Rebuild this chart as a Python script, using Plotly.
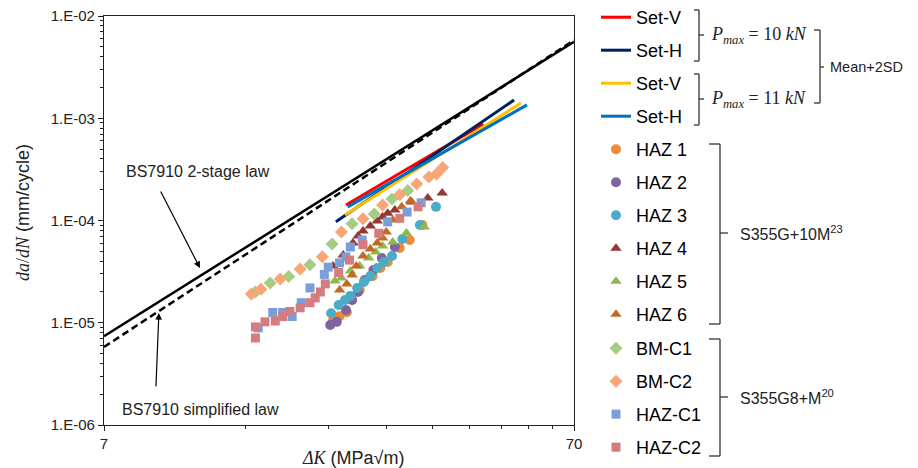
import math
import plotly.graph_objects as go

W, H = 918, 468
L, R, T, B = 104, 574, 16, 425   # plot area in pixels


def px(xp):
    return (xp - L) / (R - L)


def py(yp):
    return (B - yp) / (B - T)


# ---------------- data ----------------
bs2_dk = [7, 70]
bs2_dadn = [7.4e-6, 5.6e-3]
bss_dk = [7, 70]
bss_dadn = [5.8e-6, 5.8e-3]

setv10_dk = [22.9, 44.9]
setv10_dadn = [1.42e-4, 8.8e-4]
seth10_dk = [21.8, 52.2]
seth10_dadn = [9.7e-5, 1.51e-3]
setv11_dk = [22.8, 54.0]
setv11_dadn = [1.13e-4, 1.41e-3]
seth11_dk = [23.1, 55.6]
seth11_dadn = [1.36e-4, 1.35e-3]

haz1_dk = [21.5, 22.2, 23.0, 23.6, 24.5, 26.1, 27.1, 28.1, 29.8, 31.3, 33.3]
haz1_dadn = [1.06e-5, 1.16e-5, 1.27e-5, 1.67e-5, 2.09e-5, 2.86e-5, 3.43e-5, 3.93e-5, 5.38e-5, 6.45e-5, 9.04e-5]

haz2_dk = [21.2, 21.9, 22.9, 23.6, 24.3, 25.1, 26.2, 27.3, 29.1]
haz2_dadn = [9.5e-6, 1.02e-5, 1.33e-5, 1.67e-5, 2.0e-5, 2.62e-5, 3.28e-5, 4.3e-5, 5.5e-5]

haz3_dk = [21.3, 22.1, 22.8, 23.4, 24.2, 25.0, 25.8, 26.7, 27.6, 28.7, 30.2, 32.9, 35.6]
haz3_dadn = [1.24e-5, 1.49e-5, 1.67e-5, 1.83e-5, 2.19e-5, 2.5e-5, 2.86e-5, 3.43e-5, 3.93e-5, 4.5e-5, 6.6e-5, 9.04e-5, 1.36e-4]

haz4_dk = [21.5, 22.6, 23.7, 24.3, 24.9, 25.8, 26.7, 27.4, 28.1, 29.1, 31.6, 34.2, 36.7]
haz4_dadn = [3.59e-5, 4.6e-5, 6.03e-5, 7.05e-5, 7.9e-5, 8.84e-5, 9.9e-5, 1.08e-4, 1.18e-4, 1.27e-4, 1.52e-4, 1.66e-4, 1.86e-4]

haz5_dk = [21.7, 22.4, 23.4, 24.5, 25.6, 26.5, 27.4, 28.8, 30.8, 33.6]
haz5_dadn = [2.56e-5, 2.74e-5, 3.21e-5, 3.59e-5, 4.3e-5, 4.92e-5, 5.64e-5, 6.17e-5, 7.55e-5, 8.63e-5]

haz6_dk = [22.2, 23.0, 23.6, 24.1, 24.9, 25.8, 26.7, 27.4, 27.9, 28.8, 30.1, 31.4]
haz6_dadn = [2.09e-5, 2.39e-5, 2.93e-5, 3.59e-5, 4.5e-5, 5.26e-5, 6.03e-5, 6.75e-5, 7.7e-5, 1.01e-4, 1.36e-4, 1.55e-4]

bmc1_dk = [14.7, 15.8, 17.3, 19.2, 21.4, 23.6, 26.3, 28.7, 31.0]
bmc1_dadn = [2.0e-5, 2.45e-5, 2.83e-5, 3.7e-5, 5.9e-5, 9.3e-5, 1.16e-4, 1.62e-4, 1.96e-4]

bmc2_dk = [14.4, 15.1, 16.6, 18.3, 20.4, 22.4, 24.9, 27.4, 29.8, 32.4, 34.4, 35.7, 36.8]
bmc2_dadn = [1.91e-5, 2.13e-5, 2.68e-5, 3.36e-5, 4.42e-5, 7.7e-5, 1.04e-4, 1.42e-4, 1.79e-4, 2.27e-4, 2.66e-4, 2.85e-4, 3.3e-4]

hazc1_dk = [14.9, 16.0, 16.8, 17.6, 18.4, 19.2, 20.6, 21.0, 22.2, 22.9, 23.4, 24.8, 28.1, 30.9, 33.1]
hazc1_dadn = [8.9e-6, 1.26e-5, 1.26e-5, 1.15e-5, 1.57e-5, 2.19e-5, 2.97e-5, 3.5e-5, 3.85e-5, 4.4e-5, 5.5e-5, 6.45e-5, 9.7e-5, 1.21e-4, 1.49e-4]

hazc2_dk = [14.7, 14.7, 15.4, 16.2, 16.8, 17.4, 18.3, 19.2, 19.7, 20.2, 20.7, 22.1, 23.3, 24.9, 26.9, 29.8, 32.6]
hazc2_dadn = [7.1e-6, 9.1e-6, 1.02e-5, 1.04e-5, 1.15e-5, 1.29e-5, 1.4e-5, 1.57e-5, 1.75e-5, 2.0e-5, 2.4e-5, 3.1e-5, 4.1e-5, 5.8e-5, 7.5e-5, 1.05e-4, 1.36e-4]

x_tickvals = [7, 70]
x_ticktext = ["7", "70"]
y_tickvals = [1e-6, 1e-5, 1e-4, 1e-3, 1e-2]
y_ticktext = ["1.E-06", "1.E-05", "1.E-04", "1.E-03", "1.E-02"]

# ---------------- figure ----------------
fig = go.Figure()

fig.add_trace(go.Scatter(x=bs2_dk, y=bs2_dadn, mode="lines", showlegend=False,
                         line=dict(color="black", width=2.5)))
fig.add_trace(go.Scatter(x=bss_dk, y=bss_dadn, mode="lines", showlegend=False,
                         line=dict(color="black", width=2.5, dash="7px,4px")))

lines = [
    ("Set-V", setv10_dk, setv10_dadn, "#FF0000"),
    ("Set-H", seth10_dk, seth10_dadn, "#002060"),
    ("Set-V", setv11_dk, setv11_dadn, "#FFC000"),
    ("Set-H", seth11_dk, seth11_dadn, "#0070C0"),
]
for i, (name, xs, ys, col) in enumerate(lines):
    fig.add_trace(go.Scatter(x=xs, y=ys, mode="lines", name=name, legendgroup=f"l{i}",
                             legend="legend", line=dict(color=col, width=3)))

pts = [
    ("HAZ 1", haz1_dk, haz1_dadn, "#EE8A35", "circle", 10, "legend"),
    ("HAZ 2", haz2_dk, haz2_dadn, "#8064A2", "circle", 10, "legend"),
    ("HAZ 3", haz3_dk, haz3_dadn, "#4BACC6", "circle", 10, "legend"),
    ("HAZ 4", haz4_dk, haz4_dadn, "#953735", "triangle-up", 10, "legend"),
    ("HAZ 5", haz5_dk, haz5_dadn, "#8FB84E", "triangle-up", 10, "legend"),
    ("HAZ 6", haz6_dk, haz6_dadn, "#C56A25", "triangle-up", 10, "legend"),
    ("BM-C1", bmc1_dk, bmc1_dadn, "#A6CC84", "diamond", 10, "legend2"),
    ("BM-C2", bmc2_dk, bmc2_dadn, "#F8A676", "diamond", 10, "legend2"),
    ("HAZ-C1", hazc1_dk, hazc1_dadn, "#7B9ED9", "square", 9, "legend2"),
    ("HAZ-C2", hazc2_dk, hazc2_dadn, "#D67B7E", "square", 9, "legend2"),
]
for i, (name, xs, ys, col, sym, sz, lg) in enumerate(pts):
    fig.add_trace(go.Scatter(x=xs, y=ys, mode="markers", name=name, legendgroup=f"p{i}",
                             legend=lg,
                             marker=dict(color=col, symbol=sym, size=sz, line=dict(width=0))))

annotations = []


def label(xp, yp, text, size, family=None, xanchor="center", angle=0):
    f = dict(size=size, color="#222")
    if family:
        f["family"] = family
    annotations.append(dict(x=px(xp), y=py(yp), xref="paper", yref="paper", text=text,
                            xanchor=xanchor, yanchor="middle", textangle=angle,
                            showarrow=False, font=f))


# arrows
annotations.append(dict(x=math.log10(11.2), y=math.log10(3.43e-5), xref="x", yref="y",
                        ax=-40, ay=-78, text="", showarrow=True, arrowhead=2, arrowsize=1.1,
                        arrowwidth=1.2, arrowcolor="black"))
annotations.append(dict(x=math.log10(9.16), y=math.log10(1.245e-5), xref="x", yref="y",
                        ax=-3, ay=75, text="", showarrow=True, arrowhead=2, arrowsize=1.1,
                        arrowwidth=1.2, arrowcolor="black"))

label(198, 171, "BS7910 2-stage law", 16)
label(200, 409, "BS7910 simplified law", 16)

# axis titles
label(23, 213, "<span style='font-family:Liberation Serif'><i>da</i>/<i>dN</i></span> (mm/cycle)",
      18, angle=-90)
label(353, 458, "<span style='font-family:Liberation Serif'><i>ΔK</i></span> (MPa√m)", 18)

# bracket labels
serif = "Liberation Serif"
label(709, 35, "<i>P</i><sub><i>max</i></sub> = 10 <i>kN</i>", 18, family=serif, xanchor="left")
label(709, 99, "<i>P</i><sub><i>max</i></sub> = 11 <i>kN</i>", 18, family=serif, xanchor="left")
label(828, 67, "Mean+2SD", 14.5, xanchor="left")
label(738, 233, "S355G+10M<sup>23</sup>", 16, xanchor="left")
label(738, 397, "S355G8+M<sup>20</sup>", 16, xanchor="left")

shapes = []


def bracket(xb, y0, y1, ym, hook, tick):
    c = dict(color="#333", width=1.3)
    shapes.append(dict(type="line", xref="paper", yref="paper", x0=px(xb), x1=px(xb),
                       y0=py(y0), y1=py(y1), line=c))
    shapes.append(dict(type="line", xref="paper", yref="paper", x0=px(xb - hook), x1=px(xb),
                       y0=py(y0), y1=py(y0), line=c))
    shapes.append(dict(type="line", xref="paper", yref="paper", x0=px(xb - hook), x1=px(xb),
                       y0=py(y1), y1=py(y1), line=c))
    shapes.append(dict(type="line", xref="paper", yref="paper", x0=px(xb), x1=px(xb + tick),
                       y0=py(ym), y1=py(ym), line=c))


bracket(699, 10, 61, 35, 5, 5)
bracket(699, 74, 125, 99, 5, 5)
bracket(820, 30, 103, 67, 6, 4)
bracket(720, 144, 324, 233, 11, 8)
bracket(720, 339, 456, 397, 11, 8)

x_minor = [7 * k for k in range(2, 10)]
y_minor = [k * 10 ** e for e in range(-6, -2) for k in range(2, 10)]

legend_common = dict(xanchor="left", yanchor="middle", xref="paper", yref="paper",
                     font=dict(size=18, color="black"), tracegroupgap=6.6,
                     traceorder="grouped", bgcolor="rgba(0,0,0,0)", itemsizing="trace")

fig.update_layout(
    width=W, height=H,
    margin=dict(l=L, r=W - R, t=T, b=H - B, autoexpand=False),
    paper_bgcolor="white", plot_bgcolor="white",
    font=dict(family="Liberation Sans, Arial, sans-serif", size=15, color="#222"),
    showlegend=True,
    legend=dict(x=px(596), y=py(166), **legend_common),
    legend2=dict(x=px(596), y=py(398), **legend_common),
    annotations=annotations,
    shapes=shapes,
    xaxis=dict(type="log", range=[math.log10(7), math.log10(70)], tickmode="array",
               tickvals=x_tickvals, ticktext=x_ticktext, ticks="outside", ticklen=5,
               tickcolor="#222", showline=True, linecolor="#222", linewidth=1.3, mirror=True,
               showgrid=False, zeroline=False, tickfont=dict(size=15),
               minor=dict(tickvals=x_minor, ticks="outside", ticklen=3, tickcolor="#222", showgrid=False)),
    yaxis=dict(type="log", range=[-6, -2], tickmode="array", tickvals=y_tickvals,
               ticktext=y_ticktext, ticks="outside", ticklen=5, tickcolor="#222",
               showline=True, linecolor="#222", linewidth=1.3, mirror=True, showgrid=False,
               zeroline=False, tickfont=dict(size=15),
               minor=dict(tickvals=y_minor, ticks="outside", ticklen=3, tickcolor="#222", showgrid=False)),
)

fig.write_html("out.html", config={"displayModeBar": False},
               post_script="document.body.style.margin='0';document.body.style.overflow='hidden';")
